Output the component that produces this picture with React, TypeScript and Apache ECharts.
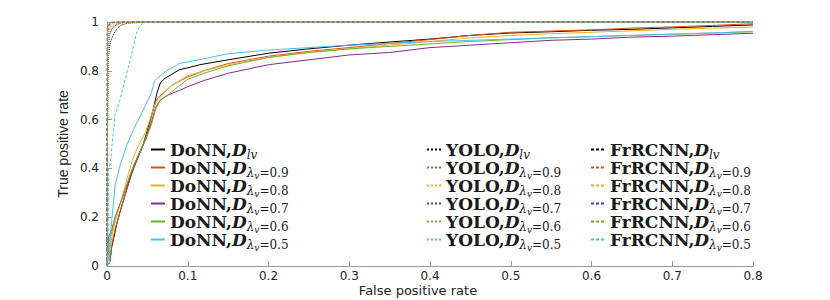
import React, { useEffect, useRef } from "react";
import * as echarts from "echarts";

// ROC data: [false positive rate, true positive rate]
const donnLv = [[0,0],[0.003,0.01],[0.006,0.08],[0.008,0.11],[0.012,0.17],[0.016,0.22],[0.025,0.32],[0.033,0.41],[0.045,0.5],[0.052,0.58],[0.057,0.64],[0.062,0.71],[0.066,0.75],[0.072,0.77],[0.08,0.785],[0.09,0.805],[0.1,0.812],[0.115,0.825],[0.15,0.845],[0.2,0.872],[0.25,0.89],[0.3,0.905],[0.35,0.918],[0.4,0.93],[0.45,0.945],[0.5,0.955],[0.55,0.96],[0.6,0.966],[0.65,0.97],[0.7,0.976],[0.75,0.982],[0.8,0.988]];
const donn09 = [[0,0],[0.004,0.02],[0.006,0.09],[0.01,0.15],[0.016,0.22],[0.025,0.32],[0.035,0.42],[0.045,0.5],[0.052,0.57],[0.058,0.65],[0.063,0.69],[0.07,0.71],[0.08,0.74],[0.1,0.775],[0.12,0.8],[0.15,0.83],[0.2,0.86],[0.25,0.88],[0.3,0.895],[0.35,0.912],[0.4,0.928],[0.45,0.945],[0.5,0.958],[0.55,0.963],[0.6,0.968],[0.65,0.975],[0.7,0.98],[0.75,0.986],[0.8,0.993]];
const donn08 = [[0,0],[0.003,0.05],[0.006,0.12],[0.01,0.18],[0.016,0.25],[0.025,0.36],[0.032,0.44],[0.04,0.5],[0.048,0.55],[0.055,0.62],[0.06,0.67],[0.068,0.7],[0.08,0.74],[0.1,0.78],[0.12,0.8],[0.15,0.825],[0.2,0.855],[0.25,0.875],[0.3,0.89],[0.35,0.905],[0.4,0.92],[0.45,0.935],[0.5,0.945],[0.55,0.952],[0.6,0.958],[0.65,0.964],[0.7,0.97],[0.75,0.975],[0.8,0.979]];
const donn07 = [[0,0],[0.002,0.12],[0.006,0.15],[0.01,0.2],[0.018,0.27],[0.028,0.36],[0.038,0.44],[0.048,0.52],[0.056,0.6],[0.06,0.65],[0.066,0.68],[0.075,0.7],[0.09,0.72],[0.1,0.735],[0.12,0.76],[0.15,0.79],[0.2,0.825],[0.25,0.845],[0.3,0.865],[0.35,0.875],[0.4,0.895],[0.45,0.905],[0.5,0.915],[0.55,0.925],[0.6,0.93],[0.65,0.938],[0.7,0.942],[0.75,0.948],[0.8,0.954]];
const donn06 = [[0,0],[0.003,0.1],[0.006,0.14],[0.01,0.2],[0.018,0.27],[0.028,0.37],[0.038,0.45],[0.048,0.52],[0.055,0.58],[0.06,0.64],[0.066,0.68],[0.075,0.7],[0.09,0.74],[0.1,0.765],[0.12,0.79],[0.15,0.82],[0.2,0.855],[0.25,0.875],[0.3,0.89],[0.35,0.9],[0.4,0.91],[0.45,0.92],[0.5,0.928],[0.55,0.935],[0.6,0.94],[0.65,0.945],[0.7,0.95],[0.75,0.955],[0.8,0.96]];
const donn05 = [[0,0],[0.003,0.01],[0.004,0.12],[0.006,0.19],[0.01,0.33],[0.016,0.41],[0.025,0.5],[0.033,0.56],[0.045,0.64],[0.055,0.71],[0.059,0.76],[0.066,0.78],[0.074,0.8],[0.09,0.83],[0.115,0.846],[0.15,0.87],[0.2,0.885],[0.25,0.895],[0.3,0.905],[0.35,0.912],[0.4,0.92],[0.45,0.925],[0.5,0.93],[0.55,0.935],[0.6,0.94],[0.65,0.945],[0.7,0.95],[0.75,0.955],[0.8,0.962]];

const yoloLv = [[0,0],[0.001,0.82],[0.003,0.9],[0.005,0.925],[0.007,0.94],[0.009,0.955],[0.012,0.97],[0.016,0.985],[0.025,0.995],[0.05,1],[0.8,1]];
const yolo09 = [[0,0],[0.001,0.9],[0.003,0.95],[0.006,0.975],[0.012,0.99],[0.025,1],[0.8,1]];
const yolo08 = [[0,0],[0.001,0.92],[0.004,0.96],[0.008,0.98],[0.015,0.995],[0.03,1],[0.8,1]];
const yolo07 = [[0,0],[0.001,0.88],[0.003,0.94],[0.006,0.97],[0.012,0.99],[0.02,1],[0.8,1]];
const yolo06 = [[0,0],[0.001,0.93],[0.003,0.97],[0.007,0.985],[0.015,1],[0.8,1]];
const yolo05 = [[0,0],[0.001,0.95],[0.003,0.98],[0.008,0.995],[0.015,1],[0.8,1]];

const frLv = [[0,0],[0.0005,0.96],[0.002,0.985],[0.005,0.995],[0.01,1],[0.8,1]];
const fr09 = [[0,0],[0.0005,0.97],[0.003,0.99],[0.008,1],[0.8,1]];
const fr08 = [[0,0],[0.0006,0.965],[0.004,0.99],[0.009,1],[0.8,1]];
const fr07 = [[0,0],[0.0005,0.975],[0.003,0.993],[0.007,1],[0.8,1]];
const fr06 = [[0,0],[0.0008,0.98],[0.004,1],[0.8,1]];
const fr05 = [[0,0],[0.001,0.05],[0.002,0.4],[0.004,0.42],[0.007,0.52],[0.01,0.62],[0.016,0.68],[0.022,0.76],[0.03,0.86],[0.036,0.95],[0.04,0.98],[0.046,1],[0.8,1]];

const variants = ["lv", "0.9", "0.8", "0.7", "0.6", "0.5"];
const colors = ["#000000", "#D95319", "#EDB120", "#7E2F8E", "#77AC30", "#4DBEEE"];
const methods = ["DoNN", "YOLO", "FrRCNN"];
const methodData = [
  [donnLv, donn09, donn08, donn07, donn06, donn05],
  [yoloLv, yolo09, yolo08, yolo07, yolo06, yolo05],
  [frLv, fr09, fr08, fr07, fr06, fr05],
];
const lineTypes: any[] = ["solid", "dotted", [3, 2]];
const legendLeft = [150, 426, 590];

const fmt = (name: string) => {
  const [m, k] = name.split("_");
  const main = `{n|${m},}{d|D}`;
  const sub = k === "lv" ? `{s|lv}{v| }` : `{l|λ}{v|v}{e|=${k}}`;
  return main + sub;
};

const rich = {
  n: { fontFamily: "DejaVu Serif", fontWeight: "bold", fontSize: 17, lineHeight: 18, color: "#1a1a1a" },
  d: { fontFamily: "DejaVu Serif", fontStyle: "italic", fontWeight: "bold", fontSize: 17, lineHeight: 18, color: "#1a1a1a" },
  s: { fontFamily: "DejaVu Serif", fontStyle: "italic", fontSize: 12, lineHeight: 18, padding: [10, 0, 0, 0], color: "#1a1a1a" },
  l: { fontFamily: "DejaVu Serif", fontStyle: "italic", fontSize: 12, lineHeight: 18, padding: [10, 0, 0, 0], color: "#1a1a1a" },
  v: { fontFamily: "DejaVu Serif", fontStyle: "italic", fontSize: 9, lineHeight: 18, padding: [16, 0, 0, 0], color: "#1a1a1a" },
  e: { fontFamily: "DejaVu Serif", fontSize: 12, lineHeight: 18, padding: [10, 0, 0, 0], color: "#1a1a1a" },
};

export default function App() {
  const ref = useRef<HTMLDivElement>(null);
  useEffect(() => {
    if (!ref.current) return;
    const chart = echarts.init(ref.current, null, { renderer: "svg" });
    const series: any[] = [];
    methods.forEach((m, mi) => {
      variants.forEach((v, vi) => {
        series.push({
          name: `${m}_${v}`,
          type: "line",
          data: methodData[mi][vi],
          showSymbol: false,
          symbol: "none",
          lineStyle: { color: colors[vi], width: 1, type: lineTypes[mi] },
          itemStyle: { color: colors[vi] },
          silent: true,
        });
      });
    });
    const legends = methods.map((m, mi) => ({
      data: variants.map((v) => `${m}_${v}`),
      orient: "vertical",
      left: legendLeft[mi],
      top: 137,
      padding: 0,
      itemGap: -7,
      itemWidth: 14,
      itemHeight: 2,
      itemStyle: { opacity: 0 },
      selectedMode: false,
      formatter: fmt,
      textStyle: { rich },
    }));
    chart.setOption({
      animation: false,
      backgroundColor: "#fff",
      grid: { left: 107, right: 77, top: 22, bottom: 34, outerBoundsMode: "none" },
      legend: legends,
      xAxis: {
        type: "value",
        min: 0,
        max: 0.8,
        interval: 0.1,
        name: "False positive rate",
        nameLocation: "middle",
        nameGap: 18,
        nameMoveOverlap: false,
        nameTextStyle: { fontFamily: "DejaVu Sans", fontSize: 13, color: "#222", padding: [0, 24, 0, 0] },
        axisLine: { show: true, lineStyle: { color: "#9a9a9a", width: 1 } },
        axisTick: { show: true, inside: true, length: 5, lineStyle: { color: "#9a9a9a" } },
        axisLabel: { fontFamily: "DejaVu Sans", fontSize: 12, color: "#222", margin: 4 },
        splitLine: { show: false },
      },
      yAxis: {
        type: "value",
        min: 0,
        max: 1,
        interval: 0.2,
        name: "True positive rate",
        nameLocation: "middle",
        nameGap: 37,
        nameMoveOverlap: false,
        nameTextStyle: { fontFamily: "Liberation Sans", fontSize: 14, color: "#222" },
        axisLine: { show: true, lineStyle: { color: "#9a9a9a", width: 1 } },
        axisTick: { show: true, inside: true, length: 5, lineStyle: { color: "#9a9a9a" } },
        axisLabel: { fontFamily: "DejaVu Sans", fontSize: 12, color: "#222", margin: 8 },
        splitLine: { show: false },
      },
      series,
    });
    return () => chart.dispose();
  }, []);
  return <div ref={ref} style={{ width: 830, height: 300, position: "fixed", left: 0, top: 0 }} />;
}
